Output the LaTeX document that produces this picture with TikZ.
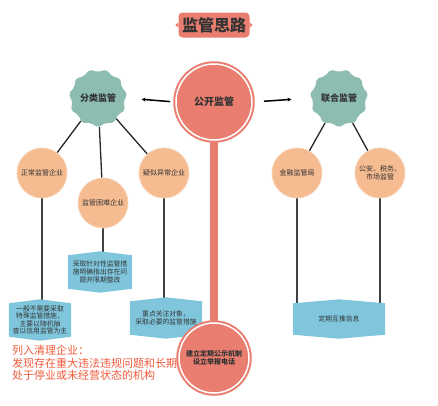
\documentclass[tikz,border=0pt]{standalone}
\usepackage{fontspec}
\setmainfont{Noto Sans CJK SC}
\usetikzlibrary{shapes.geometric, arrows.meta, positioning, calc, backgrounds}
\definecolor{salmon}{HTML}{E97D6F}
\definecolor{sagegreen}{HTML}{8DBDB1}
\definecolor{peach}{HTML}{F5BB91}
\definecolor{peachedge}{HTML}{F9D2B4}
\definecolor{bannerblue}{HTML}{7FC6DD}
\definecolor{textdark}{HTML}{333333}
\definecolor{alertred}{HTML}{EE5A3A}
\newcommand{\bannerfill}[1]{%
  \fill[bannerblue] (#1.north west) -- ([yshift=4pt]#1.north) -- (#1.north east)
    -- (#1.south east) -- ([yshift=-4pt]#1.south) -- (#1.south west) -- cycle;}

\begin{document}
\begin{tikzpicture}[x=1pt, y=-1pt,
    bigdisc/.style={circle, fill=salmon, draw=salmon, line width=2pt, double=white,
      double distance=1.5pt, inner sep=0pt, text=textdark, align=center},
    hubstar/.style={star, star points=11, star point ratio=0.88, rounded corners=2pt,
      fill=sagegreen, minimum size=52pt, inner sep=0pt, text=textdark,
      font=\bfseries\fontsize{9}{11}\selectfont},
    firm/.style={circle, fill=peach, draw=peachedge, line width=0.8pt, minimum size=50pt,
      inner sep=0pt, align=center, text=textdark, font=\fontsize{7}{8.5}\selectfont},
    banner/.style={minimum height=33pt, inner sep=1pt, align=center, text=textdark,
      font=\fontsize{6.8}{7.6}\selectfont},
    link/.style={draw=black!85, line width=1.3pt},
    drop/.style={draw=black!75, line width=1.6pt}
  ]
  \useasboundingbox (0,0) rectangle (438,405);

  % title
  \node[fill=salmon, rounded corners=4pt, minimum width=71pt, minimum height=25pt,
        inner sep=0pt, text=textdark, font=\bfseries\fontsize{16}{18}\selectfont]
        (title) at (214,25) {监管思路};
  \fill[salmon] (title.west) ++(0,2.5) -- ++(-3,-2.5) -- ++(3,-2.5) -- cycle;
  \fill[salmon] (title.east) ++(0,2.5) -- ++(3,-2.5) -- ++(-3,-2.5) -- cycle;

  % main discs
  \node[bigdisc, minimum size=76pt, font=\bfseries\fontsize{10}{12}\selectfont]
        (pub) at (214,102) {公开监管};
  \node[bigdisc, minimum size=70pt, font=\bfseries\fontsize{7}{8.2}\selectfont]
        (low) at (214,358) {建立定期公示机制\\设立举报电话};

  % hubs
  \node[hubstar] (sort) at (98,98) {分类监管};
  \node[hubstar] (joint) at (339,98) {联合监管};

  % firms
  \node[firm] (normal) at (42,173) {正常监管企业};
  \node[firm] (hard) at (103,203) {监管困难企业};
  \node[firm] (odd) at (164,173) {疑似异常企业};
  \node[firm] (fin) at (297,173) {金融监管局};
  \node[firm] (police) at (380,173) {公安、税务、\\市场监管};

  % banners
  \node[banner, text width=60pt] (b1) at (40,320)
        {一般不需要采取\\特殊监管措施，\\主要以随机抽\\查以信用监管为主};
  \node[banner, text width=62pt] (b2) at (100,272)
        {采取针对性监管措\\施明确指出存在问\\题并限期整改};
  \node[banner, text width=70pt] (b3) at (166,318)
        {重点关注对象，\\采取必要的监管措施};
  \node[banner, text width=90pt, minimum height=31pt] (b4) at (339,319) {定期互推信息};

  \node[anchor=north west, align=left, text=alertred, inner sep=0pt,
        font=\fontsize{11}{12.5}\selectfont] (clear) at (12,345)
        {列入清理企业：\\发现存在重大违法违规问题和长期\\处于停业或未经营状态的机构};

  \begin{scope}[on background layer]
    \draw[salmon, line width=8pt] (pub.south) -- (low.north);
    \draw[link] (sort) -- (normal);
    \draw[link] (sort) -- (hard);
    \draw[link] (sort) -- (odd);
    \draw[link] (joint) -- (fin);
    \draw[link] (joint) -- (police);
    \draw[drop] (normal.south) -- (normal.south |- b1.north);
    \draw[drop] (hard.south) -- (hard.south |- b2.north);
    \draw[drop] (odd.south) -- (odd.south |- b3.north);
    \draw[drop] (fin.south) -- (fin.south |- b4.north);
    \draw[drop] (police.south) -- (police.south |- b4.north);
    \bannerfill{b1}
    \bannerfill{b2}
    \bannerfill{b3}
    \bannerfill{b4}
  \end{scope}

  \draw[black, line width=1.5pt, -{Stealth[length=4pt, width=4pt]},
        shorten <=5pt, shorten >=16pt] (pub.west) -- (sort.east);
  \draw[black, line width=1.5pt, -{Stealth[length=4pt, width=4pt]},
        shorten <=11pt, shorten >=20pt] (pub.east) -- (joint.west);
\end{tikzpicture}
\end{document}
